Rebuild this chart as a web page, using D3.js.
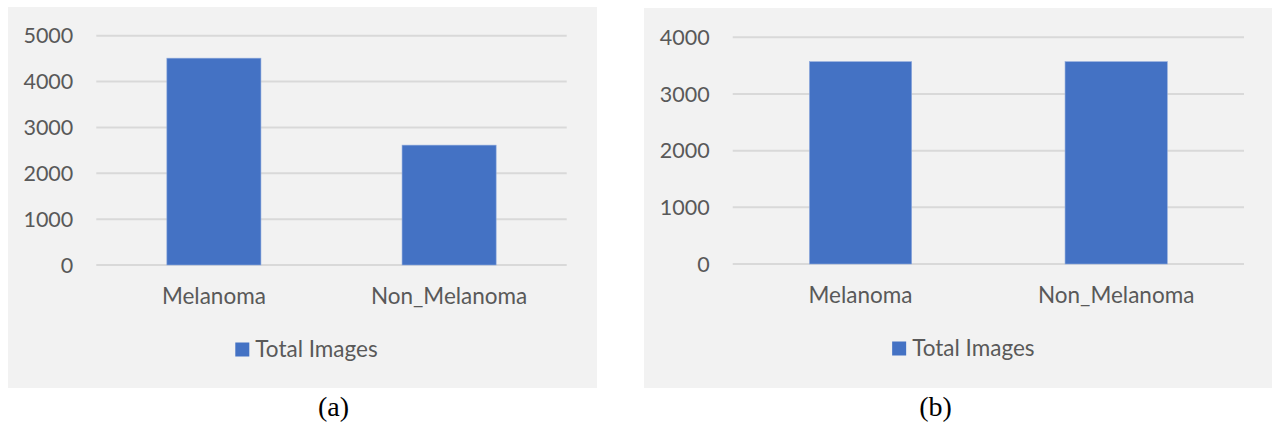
<!DOCTYPE html>
<html>
<head>
<meta charset="utf-8">
<script src="https://cdn.jsdelivr.net/npm/d3@7"></script>
<style>
  html, body { margin: 0; padding: 0; background: #ffffff; }
  svg { display: block; }
  .tick-label, .cat-label, .legend-label { font-family: Lato, "Open Sans", sans-serif; fill: #595959; }
  .caption { font-family: "Liberation Serif", "Times New Roman", serif; fill: #000000; }
</style>
</head>
<body>
<svg id="chart" width="1272" height="427"></svg>
<script>
// Class names shared by both panels
const categories = ["Melanoma", "Non_Melanoma"];
const seriesName = "Total Images";

// Image counts per class: (a) original dataset, (b) balanced dataset
const valuesA = [4510, 2614];
const valuesB = [3570, 3570];

// Y axis tick labels for each panel
const ticksA = [0, 1000, 2000, 3000, 4000, 5000];
const ticksB = [0, 1000, 2000, 3000, 4000];

const captions = ["(a)", "(b)"];

const svg = d3.select("#chart");
const barColor = "#4472c4";
const gridColor = "#d9d9d9";
const panelFill = "#f2f2f2";

function drawPanel(opts) {
  const { box, plot, values, ticks, caption, captionX } = opts;
  const g = svg.append("g");

  // chart area background
  g.append("rect")
    .attr("x", box.x).attr("y", box.y)
    .attr("width", box.w).attr("height", box.h)
    .attr("fill", panelFill);

  const x = d3.scaleBand()
    .domain(categories)
    .range([plot.x0, plot.x1])
    .paddingInner(0.6)
    .paddingOuter(0.3);

  const y = d3.scaleLinear()
    .domain([0, d3.max(ticks)])
    .range([plot.y0, plot.y1]);

  // horizontal gridlines
  g.append("g")
    .selectAll("line")
    .data(ticks)
    .join("line")
    .attr("x1", plot.x0).attr("x2", plot.x1)
    .attr("y1", d => y(d)).attr("y2", d => y(d))
    .attr("stroke", gridColor)
    .attr("stroke-width", 2);

  // y tick labels
  g.append("g")
    .selectAll("text")
    .data(ticks)
    .join("text")
    .attr("class", "tick-label")
    .attr("x", plot.x0 - 23)
    .attr("y", d => y(d))
    .attr("dy", "0.36em")
    .attr("text-anchor", "end")
    .attr("font-size", 21.5)
    .text(d => d);

  // bars
  g.append("g")
    .selectAll("rect")
    .data(categories.map((c, i) => ({ c, v: values[i] })))
    .join("rect")
    .attr("x", d => x(d.c))
    .attr("width", x.bandwidth())
    .attr("y", d => y(d.v))
    .attr("height", d => y(0) - y(d.v))
    .attr("fill", barColor)
    .attr("stroke", "#8faadc")
    .attr("stroke-width", 0.6);

  // category labels
  g.append("g")
    .selectAll("text")
    .data(categories)
    .join("text")
    .attr("class", "cat-label")
    .attr("x", d => x(d) + x.bandwidth() / 2)
    .attr("y", y(0) + 39)
    .attr("text-anchor", "middle")
    .attr("font-size", 22.5)
    .text(d => d);

  // legend, centred under the plot
  const legend = g.append("g");
  const label = legend.append("text")
    .attr("class", "legend-label")
    .attr("font-size", 22.5)
    .attr("y", y(0) + 91.5)
    .text(seriesName);
  const tw = label.node().getComputedTextLength();
  const sw = 14, gap = 6;
  const total = sw + gap + tw;
  const cx = (plot.x0 + plot.x1) / 2 - 25;
  const lx = cx - total / 2;
  legend.insert("rect", "text")
    .attr("x", lx).attr("y", y(0) + 77.5)
    .attr("width", sw).attr("height", sw)
    .attr("fill", barColor);
  label.attr("x", lx + sw + gap);

  // panel caption
  svg.append("text")
    .attr("class", "caption")
    .attr("x", captionX)
    .attr("y", 416)
    .attr("text-anchor", "middle")
    .attr("font-size", 28)
    .text(caption);
}

drawPanel({
  box: { x: 8, y: 7, w: 589, h: 381 },
  plot: { x0: 96.3, x1: 566.7, y0: 265, y1: 35.7 },
  values: valuesA,
  ticks: ticksA,
  caption: captions[0],
  captionX: 333.5
});

drawPanel({
  box: { x: 644, y: 8, w: 628, h: 380 },
  plot: { x0: 732.7, x1: 1244, y0: 264, y1: 37.3 },
  values: valuesB,
  ticks: ticksB,
  caption: captions[1],
  captionX: 935.5
});
</script>
</body>
</html>
